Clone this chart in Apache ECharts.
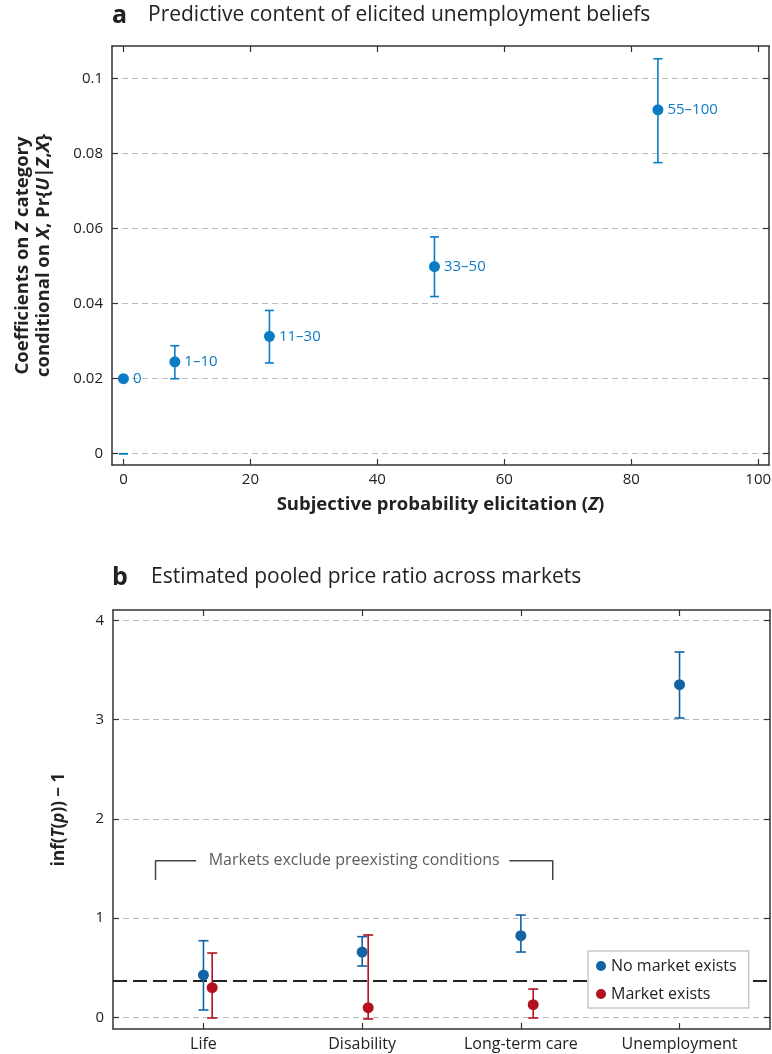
<!DOCTYPE html>
<html><head><meta charset="utf-8">
<script src="https://cdn.jsdelivr.net/npm/echarts@6/dist/echarts.min.js"></script>
<style>html,body{margin:0;padding:0;background:#fff}#c{width:772px;height:1054px}</style>
</head><body><div id="c"></div>
<script>
// ---------- Panel a data ----------
const aLabels = ['0', '1–10', '11–30', '33–50', '55–100'];
const aX = [0, 8.1, 23.0, 49.0, 84.2];
const aY = [0.0200, 0.0245, 0.0313, 0.0499, 0.0917];
const aLow = [0, 0.0200, 0.0242, 0.0419, 0.0776];
const aHigh = [0, 0.0288, 0.0382, 0.0578, 0.1053];
const aXTicks = [0, 20, 40, 60, 80, 100];
const aYTicks = [0, 0.02, 0.04, 0.06, 0.08, 0.1];

// ---------- Panel b data ----------
const bCats = ['Life', 'Disability', 'Long-term care', 'Unemployment'];
const noMktX = [1, 2, 3, 4];
const noMktY = [0.426, 0.658, 0.823, 3.353];
const noMktLow = [0.074, 0.517, 0.658, 3.017];
const noMktHigh = [0.772, 0.813, 1.031, 3.683];
const mktX = [1.055, 2.038, 3.078];
const mktY = [0.298, 0.097, 0.127];
const mktLow = [-0.007, -0.017, -0.007];
const mktHigh = [0.648, 0.830, 0.285];
const bYTicks = [0, 1, 2, 3, 4];
const threshold = 0.37;
const bracketLeft = [[0.698, 1.384], [0.698, 1.579], [0.954, 1.579]];
const bracketRight = [[2.928, 1.579], [3.201, 1.579], [3.201, 1.384]];
const bracketText = [[1.95, 1.579]];
const bracketLabel = 'Markets exclude preexisting conditions';

const FONT = '"Open Sans"';
const blueA = '#0b7cc4';
const blueB = '#1163a6';
const redB = '#b3111f';
const axisCol = '#333';
const txtCol = '#222';

function errRender(color, capHalf) {
  return function (params, api) {
    const x = api.value(0), lo = api.value(1), hi = api.value(2);
    const p1 = api.coord([x, hi]), p2 = api.coord([x, lo]);
    const st = { stroke: color, lineWidth: 1.6 };
    return {
      type: 'group', children: [
        { type: 'line', shape: { x1: p1[0], y1: p1[1], x2: p2[0], y2: p2[1] }, style: st },
        { type: 'line', shape: { x1: p1[0] - capHalf, y1: p1[1], x2: p1[0] + capHalf, y2: p1[1] }, style: st },
        { type: 'line', shape: { x1: p2[0] - capHalf, y1: p2[1], x2: p2[0] + capHalf, y2: p2[1] }, style: st }
      ]
    };
  };
}

function frameAxis(extra) {
  return Object.assign({
    type: 'value',
    axisLine: { show: true, onZero: false, lineStyle: { color: axisCol, width: 1.5 } },
    axisTick: { show: true, inside: true, length: 6, lineStyle: { color: axisCol, width: 1.2 } },
    axisLabel: { show: false },
    splitLine: { show: false }
  }, extra);
}

const chart = echarts.init(document.getElementById('c'), null, { renderer: 'canvas' });

const option = {
  animation: false,
  backgroundColor: '#fff',
  textStyle: { fontFamily: FONT },
  graphic: [
    { type: 'text', left: 112, top: 3, style: { text: 'a', font: 'bold 25px ' + FONT, fill: '#222' } },
    { type: 'text', left: 148, top: 5, style: { text: 'Predictive content of elicited unemployment beliefs', font: '21px ' + FONT, fill: '#222' } },
    { type: 'text', left: 112, top: 565, style: { text: 'b', font: 'bold 25px ' + FONT, fill: '#222' } },
    { type: 'text', left: 151, top: 567, style: { text: 'Estimated pooled price ratio across markets', font: '21px ' + FONT, fill: '#222' } }
  ],
  grid: [
    { left: 112, top: 46, width: 657, height: 419, outerBoundsMode: 'none', containLabel: false },
    { left: 113, top: 610, width: 657, height: 419, outerBoundsMode: 'none', containLabel: false }
  ],
  xAxis: [
    frameAxis({
      gridIndex: 0, position: 'bottom', min: -1.8, max: 101.7,
      axisTick: { show: true, inside: true, length: 6, customValues: aXTicks, lineStyle: { color: axisCol, width: 1.2 } },
      axisLabel: { show: true, customValues: aXTicks, color: txtCol, fontSize: 15, margin: 7, fontFamily: FONT },
      name: 'Subjective probability elicitation ({i|Z})', nameLocation: 'middle', nameGap: 30,
      nameTextStyle: { fontSize: 18.5, fontWeight: 'bold', color: txtCol, fontFamily: FONT,
        rich: { i: { fontSize: 18.5, fontWeight: 'bold', fontStyle: 'italic', color: txtCol, fontFamily: FONT } } }
    }),
    frameAxis({
      gridIndex: 0, position: 'top', min: -1.8, max: 101.7,
      axisTick: { show: true, inside: true, length: 6, customValues: aXTicks, lineStyle: { color: axisCol, width: 1.2 } }
    }),
    frameAxis({
      gridIndex: 1, position: 'bottom', min: 0.43, max: 4.57,
      axisTick: { show: true, inside: true, length: 6, customValues: [1, 2, 3, 4], lineStyle: { color: axisCol, width: 1.2 } },
      axisLabel: { show: true, customValues: [1, 2, 3, 4], color: txtCol, fontSize: 16, margin: 7, fontFamily: FONT,
        formatter: v => bCats[Math.round(v) - 1] }
    }),
    frameAxis({
      gridIndex: 1, position: 'top', min: 0.43, max: 4.57,
      axisTick: { show: true, inside: true, length: 6, customValues: [1, 2, 3, 4], lineStyle: { color: axisCol, width: 1.2 } }
    })
  ],
  yAxis: [
    frameAxis({
      gridIndex: 0, position: 'left', min: -0.003, max: 0.1087,
      axisTick: { show: true, inside: true, length: 6, customValues: aYTicks, lineStyle: { color: axisCol, width: 1.2 } },
      axisLabel: { show: true, customValues: aYTicks, color: txtCol, fontSize: 15, margin: 9, fontFamily: FONT },
      splitLine: { show: true, lineStyle: { color: '#bbb', type: [6, 4], width: 1 } },
      name: '{b|Coefficients on }{i|Z}{b| category}\n{b|conditional on }{i|X}{b|, Pr\{}{i|U}{b||}{i|Z}{b|,}{i|X}{b|\u007D}',
      nameLocation: 'middle', nameRotate: 90, nameGap: 58,
      nameTextStyle: { fontSize: 18.5, fontWeight: 'bold', color: txtCol, fontFamily: FONT, lineHeight: 21,
        rich: {
          b: { fontSize: 18.5, fontWeight: 'bold', color: txtCol, fontFamily: FONT, lineHeight: 21 },
          i: { fontSize: 18.5, fontWeight: 'bold', fontStyle: 'italic', color: txtCol, fontFamily: FONT, lineHeight: 21 }
        } }
    }),
    frameAxis({
      gridIndex: 0, position: 'right', min: -0.003, max: 0.1087,
      axisTick: { show: true, inside: true, length: 6, customValues: aYTicks, lineStyle: { color: axisCol, width: 1.2 } }
    }),
    frameAxis({
      gridIndex: 1, position: 'left', min: -0.118, max: 4.106,
      axisTick: { show: true, inside: true, length: 6, customValues: bYTicks, lineStyle: { color: axisCol, width: 1.2 } },
      axisLabel: { show: true, customValues: bYTicks, color: txtCol, fontSize: 15, margin: 9, fontFamily: FONT },
      splitLine: { show: true, lineStyle: { color: '#bbb', type: [6, 4], width: 1 } },
      name: 'inf({i|T}({i|p})) − 1', nameLocation: 'middle', nameRotate: 90, nameGap: 45,
      nameTextStyle: { fontSize: 17, fontWeight: 'bold', color: txtCol, fontFamily: FONT,
        rich: { i: { fontSize: 17, fontWeight: 'bold', fontStyle: 'italic', color: txtCol, fontFamily: FONT } } }
    }),
    frameAxis({
      gridIndex: 1, position: 'right', min: -0.118, max: 4.106,
      axisTick: { show: true, inside: true, length: 6, customValues: bYTicks, lineStyle: { color: axisCol, width: 1.2 } }
    })
  ],
  legend: {
    data: ['No market exists', 'Market exists'],
    orient: 'vertical', left: 588, top: 951, z: 20,
    backgroundColor: '#fff', borderColor: '#c8c8c8', borderWidth: 1.5,
    padding: [7, 12, 6, 8], itemGap: 12, itemWidth: 10, itemHeight: 10,
    icon: 'circle',
    textStyle: { fontSize: 16, color: txtCol, fontFamily: FONT }
  },
  series: [
    // Panel a
    {
      type: 'custom', xAxisIndex: 0, yAxisIndex: 0,
      renderItem: errRender(blueA, 4.5),
      data: aX.map((x, i) => [x, aLow[i], aHigh[i]]), z: 3
    },
    {
      type: 'scatter', xAxisIndex: 0, yAxisIndex: 0, symbolSize: 11,
      itemStyle: { color: blueA, opacity: 1 },
      label: { show: true, position: 'right', distance: 4, color: blueA, fontSize: 15, fontFamily: FONT,
        formatter: p => aLabels[p.dataIndex] },
      data: aX.map((x, i) => [x, aY[i]]), z: 4
    },
    // Panel b
    {
      type: 'custom', xAxisIndex: 2, yAxisIndex: 2,
      renderItem: errRender(blueB, 5),
      data: noMktX.map((x, i) => [x, noMktLow[i], noMktHigh[i]]), z: 3
    },
    {
      type: 'custom', xAxisIndex: 2, yAxisIndex: 2,
      renderItem: errRender(redB, 5),
      data: mktX.map((x, i) => [x, mktLow[i], mktHigh[i]]), z: 3
    },
    {
      name: 'No market exists', type: 'scatter', xAxisIndex: 2, yAxisIndex: 2, symbolSize: 11,
      itemStyle: { color: blueB, opacity: 1 },
      data: noMktX.map((x, i) => [x, noMktY[i]]), z: 4,
      markLine: {
        silent: true, symbol: 'none', label: { show: false }, z: 2,
        lineStyle: { color: '#222', type: [14, 6], width: 2 },
        data: [{ yAxis: threshold }]
      }
    },
    {
      name: 'Market exists', type: 'scatter', xAxisIndex: 2, yAxisIndex: 2, symbolSize: 11,
      itemStyle: { color: redB, opacity: 1 },
      data: mktX.map((x, i) => [x, mktY[i]]), z: 4
    },
    {
      type: 'line', xAxisIndex: 2, yAxisIndex: 2, symbol: 'none', silent: true,
      lineStyle: { color: '#444', width: 1.5 }, data: bracketLeft
    },
    {
      type: 'line', xAxisIndex: 2, yAxisIndex: 2, symbol: 'none', silent: true,
      lineStyle: { color: '#444', width: 1.5 }, data: bracketRight
    },
    {
      type: 'scatter', xAxisIndex: 2, yAxisIndex: 2, symbolSize: 0, silent: true,
      label: { show: true, position: 'inside', color: '#333', fontSize: 16, fontFamily: FONT,
        formatter: () => bracketLabel },
      data: bracketText
    }
  ]
};
chart.setOption(option);
</script>
</body></html>
